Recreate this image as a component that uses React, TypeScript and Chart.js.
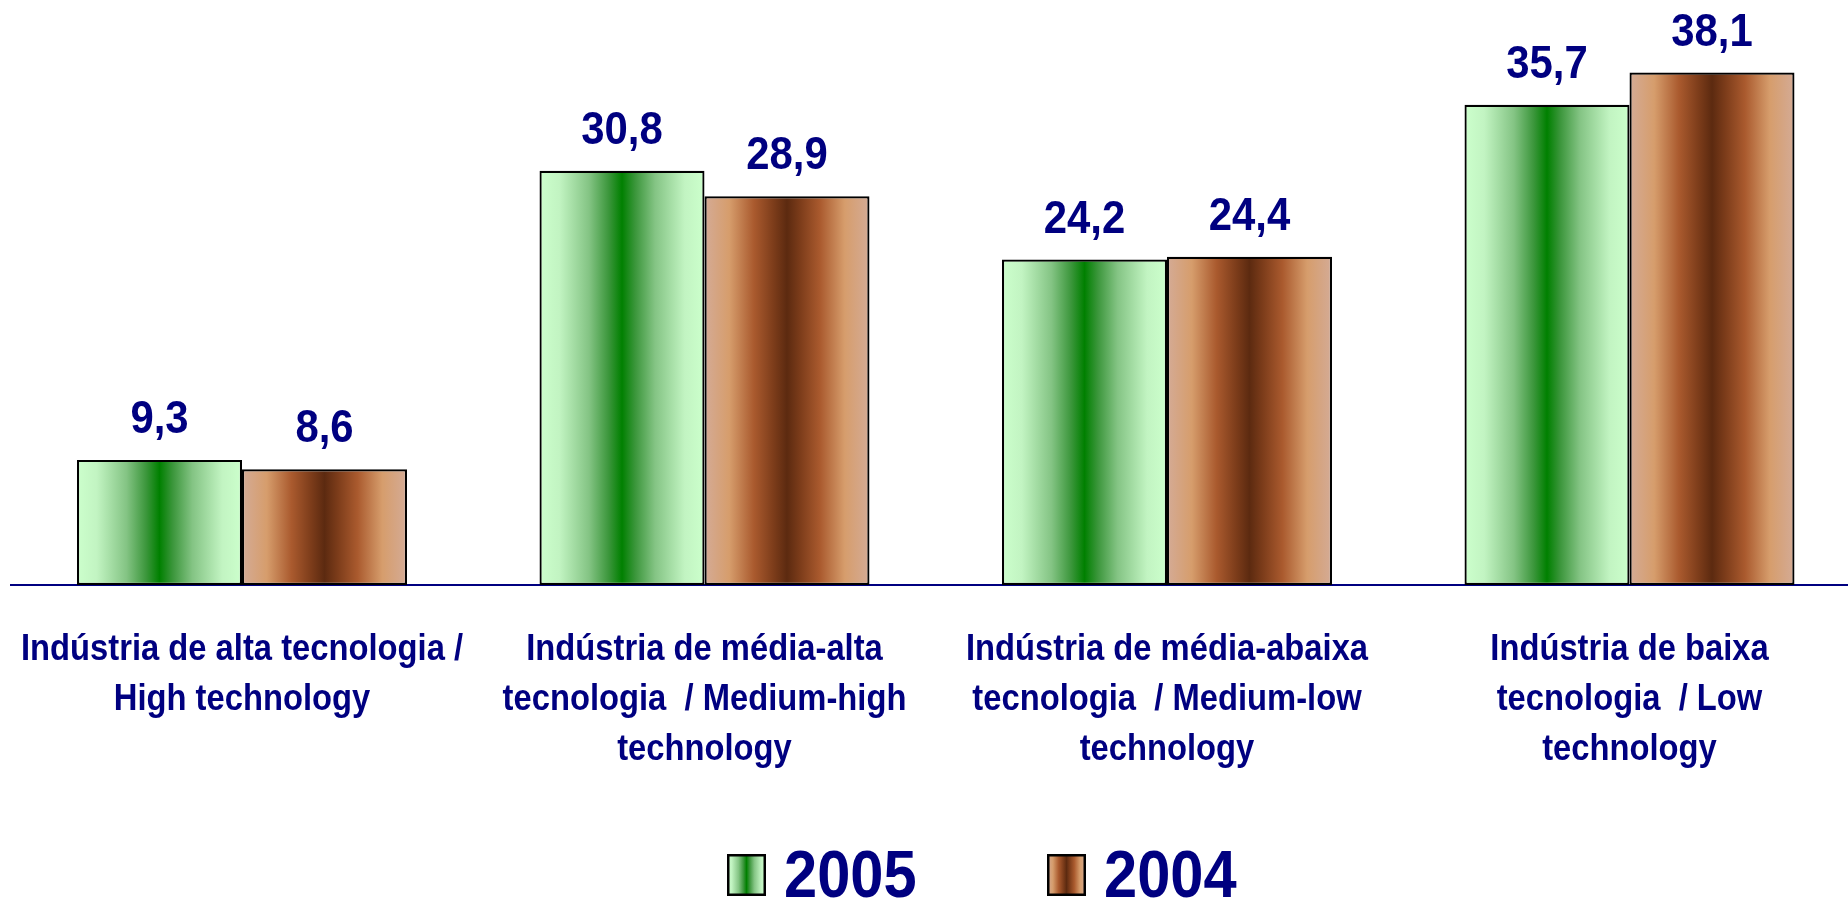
import React, { useEffect, useRef } from "react";
import { Chart, registerables } from "chart.js";

Chart.register(...registerables);

const categories: string[][] = [
  ["Indústria de alta tecnologia /", "High technology"],
  ["Indústria de média-alta", "tecnologia  / Medium-high", "technology"],
  ["Indústria de média-abaixa", "tecnologia  / Medium-low", "technology"],
  ["Indústria de baixa", "tecnologia  / Low", "technology"],
];
const seriesNames = ["2005", "2004"];
const values2005 = [9.3, 30.8, 24.2, 35.7];
const values2004 = [8.6, 28.9, 24.4, 38.1];

const NAVY = "#000080";
const FONT = "'Liberation Sans', Arial, sans-serif";

const gradientStops: [number, string][][] = [
  [
    [0, "#ccffcc"],
    [0.12, "#c2f4c2"],
    [0.3, "#84c484"],
    [0.42, "#3b963b"],
    [0.5, "#008000"],
    [0.58, "#3b963b"],
    [0.7, "#84c484"],
    [0.88, "#c2f4c2"],
    [1, "#ccffcc"],
  ],
  [
    [0, "#d4ab96"],
    [0.15, "#d69d6c"],
    [0.3, "#aa5a2e"],
    [0.42, "#7c3c1a"],
    [0.5, "#5c2a10"],
    [0.58, "#7c3c1a"],
    [0.7, "#aa5a2e"],
    [0.85, "#d69d6c"],
    [1, "#d4ab96"],
  ],
];

function makeGradient(ctx: CanvasRenderingContext2D, left: number, width: number, idx: number) {
  const g = ctx.createLinearGradient(left, 0, left + width, 0);
  for (const [o, c] of gradientStops[idx]) g.addColorStop(o, c);
  return g;
}

function scaledText(
  ctx: CanvasRenderingContext2D,
  text: string,
  x: number,
  y: number,
  size: number,
  align: CanvasTextAlign,
  sx = 0.9
) {
  ctx.save();
  ctx.translate(x, y);
  ctx.scale(sx, 1);
  ctx.font = `bold ${size}px ${FONT}`;
  ctx.fillStyle = NAVY;
  ctx.textAlign = align;
  ctx.textBaseline = "alphabetic";
  ctx.fillText(text, 0, 0);
  ctx.restore();
}

const gradientPlugin = {
  id: "gradientBars",
  beforeDatasetsDraw(chart: any) {
    const ctx = chart.ctx;
    chart.data.datasets.forEach((_: any, di: number) => {
      const meta = chart.getDatasetMeta(di);
      meta.data.forEach((el: any) => {
        const { x, width } = el.getProps(["x", "width"], true);
        const left = x - width / 2;
        el.options = {
          ...el.options,
          backgroundColor: makeGradient(ctx, left, width, di),
          borderColor: "#000000",
        };
      });
    });
  },
  afterDatasetsDraw(chart: any) {
    const ctx = chart.ctx;
    // value labels
    chart.data.datasets.forEach((ds: any, di: number) => {
      const meta = chart.getDatasetMeta(di);
      meta.data.forEach((el: any, i: number) => {
        const { x, y } = el.getProps(["x", "y"], true);
        const txt = Number(ds.data[i]).toFixed(1).replace(".", ",");
        scaledText(ctx, txt, x, y - 27, 46, "center", 0.91);
      });
    });
    // category labels
    const xs = chart.scales.x;
    const bottom = chart.chartArea.bottom;
    (chart.data.labels as string[][]).forEach((lines, i) => {
      const cx = xs.getPixelForValue(i);
      lines.forEach((ln, li) => {
        scaledText(ctx, ln, cx, bottom + 75 + li * 50, 37, "center", 0.885);
      });
    });
    // legend
    const starts = [727, 1047];
    chart.data.datasets.forEach((ds: any, di: number) => {
      const bx = starts[di];
      const by = 854;
      const bw = 39;
      const bh = 42;
      ctx.save();
      ctx.fillStyle = makeGradient(ctx, bx, bw, di);
      ctx.fillRect(bx, by, bw, bh);
      ctx.lineWidth = 2.5;
      ctx.strokeStyle = "#000";
      ctx.strokeRect(bx + 1.25, by + 1.25, bw - 2.5, bh - 2.5);
      ctx.restore();
      scaledText(ctx, ds.label, bx + 57, 897, 67, "left", 0.89);
    });
  },
};

export default function App() {
  const ref = useRef<HTMLCanvasElement>(null);
  useEffect(() => {
    if (!ref.current) return;
    const chart = new Chart(ref.current, {
      type: "bar",
      data: {
        labels: categories,
        datasets: [
          {
            label: seriesNames[0],
            data: values2005,
            backgroundColor: "#ccffcc",
            borderColor: "#000000",
          },
          {
            label: seriesNames[1],
            data: values2004,
            backgroundColor: "#d4ab96",
            borderColor: "#000000",
          },
        ],
      },
      options: {
        animation: false,
        responsive: true,
        maintainAspectRatio: false,
        layout: { padding: { left: 10.75, right: 9.25, top: 47, bottom: 314 } },
        datasets: {
          bar: {
            barPercentage: 1,
            categoryPercentage: 0.7135,
            borderWidth: 2.2,
            borderSkipped: false,
          },
        },
        plugins: {
          legend: { display: false },
          tooltip: { enabled: false },
          colors: { enabled: false },
        } as any,
        scales: {
          x: {
            display: true,
            grid: { display: false, drawTicks: false },
            border: { display: true, color: NAVY, width: 2 },
            ticks: { display: false },
          },
          y: { display: false, min: 0, max: 40 },
        },
      },
      plugins: [gradientPlugin],
    });
    return () => chart.destroy();
  }, []);
  return (
    <div
      style={{
        position: "fixed",
        left: 0,
        top: 0,
        width: 1848,
        height: 899,
        overflow: "hidden",
        background: "#fff",
      }}
    >
      <div style={{ position: "relative", width: 1870, height: 899 }}>
        <canvas ref={ref} />
      </div>
    </div>
  );
}
